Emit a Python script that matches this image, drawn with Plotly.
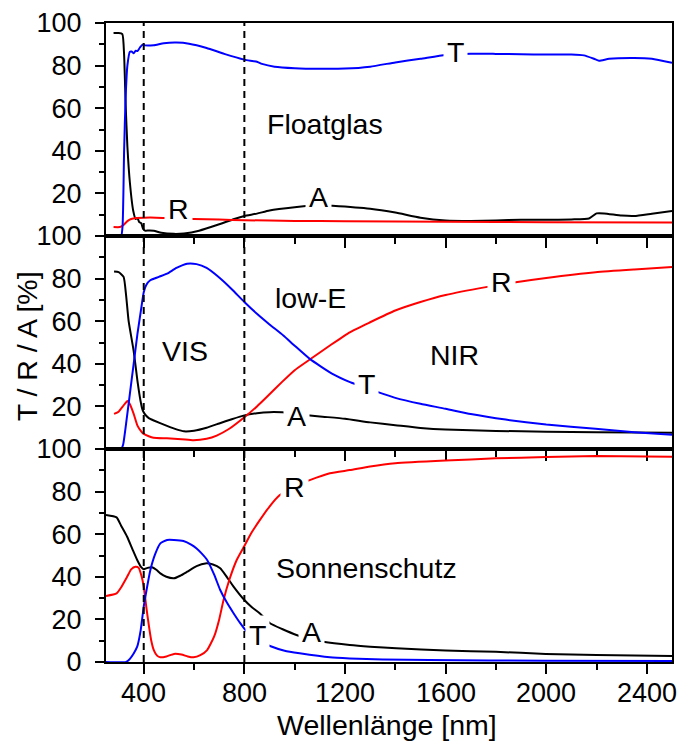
import plotly.graph_objects as go

# ---------------- spectra: Floatglas ----------------
float_A_x = [280, 300, 315, 322, 328, 335, 345, 358, 368, 375, 382, 390, 397, 405, 420, 440, 470, 520, 560, 620, 700, 760, 800, 850, 900, 1000, 1100, 1150, 1300, 1400, 1500, 1600, 1700, 1800, 1900, 2000, 2100, 2170, 2200, 2230, 2300, 2350, 2420, 2500]
float_A_y = [95.3, 95.3, 94.8, 85, 62, 42, 25, 12, 8, 8.5, 6.5, 6, 3.5, 2.5, 2.6, 2.5, 1.5, 1.0, 1.2, 2.5, 5.5, 8, 9.4, 10.5, 12, 13.5, 14.5, 14.2, 12.8, 11, 8.6, 7.3, 7.1, 7.3, 7.6, 7.6, 7.8, 8.2, 10.6, 10.6, 9.6, 9.4, 10.5, 11.8]
float_R_x = [280, 305, 320, 335, 350, 370, 400, 450, 500, 600, 700, 800, 1000, 1200, 1600, 2000, 2500]
float_R_y = [4.2, 4.2, 5.2, 7, 8.0, 8.5, 8.6, 8.6, 8.4, 8.0, 7.7, 7.4, 7.1, 6.9, 6.7, 6.5, 6.3]
float_T_x = [280, 310, 316, 322, 328, 335, 345, 352, 360, 368, 375, 385, 395, 405, 440, 480, 530, 580, 650, 720, 800, 850, 870, 920, 1000, 1100, 1200, 1300, 1400, 1500, 1600, 1700, 1800, 1900, 2000, 2100, 2150, 2190, 2210, 2250, 2350, 2420, 2500]
float_T_y = [0, 0, 5, 40, 65, 80, 86.5, 86.6, 85.8, 87, 86.8, 88.5, 89.8, 89.5, 89.6, 90.5, 90.8, 90.3, 88.3, 85.5, 82.8, 81.8, 80.8, 79.5, 78.8, 78.5, 78.6, 79.5, 81.5, 83.2, 85.0, 85.6, 85.5, 85.3, 85.2, 85.2, 84.8, 83.2, 82.3, 83.2, 83.6, 83.2, 81.3]

# ---------------- spectra: low-E ----------------
lowe_A_x = [282, 300, 320, 330, 340, 360, 375, 387, 395, 403, 420, 440, 490, 530, 560, 600, 650, 700, 750, 800, 850, 900, 950, 1000, 1100, 1200, 1300, 1400, 1500, 1600, 1800, 2000, 2200, 2500]
lowe_A_y = [83.3, 83, 80.8, 72, 60, 46, 32, 22.8, 18.5, 16.6, 14.5, 13.4, 11, 9.2, 8.3, 8.6, 10, 12, 14, 15.8, 16.8, 17.3, 17.2, 16.5, 15.3, 14.2, 12.5, 11.2, 9.9, 9.1, 8.5, 8.1, 7.9, 7.6]
lowe_T_x = [282, 310, 318, 330, 345, 360, 375, 390, 400, 410, 426, 460, 493, 530, 572, 610, 650, 700, 750, 800, 850, 900, 955, 1000, 1060, 1150, 1220, 1238, 1331, 1400, 1500, 1600, 1700, 1839, 2000, 2196, 2350, 2500]
lowe_T_y = [0, 0, 2, 12, 26, 40, 54, 66, 73.6, 77, 79.2, 80.8, 82.3, 85, 87, 86.8, 85, 80.5, 75, 69, 63.5, 58.5, 53.3, 48.5, 42.3, 35.3, 31.4, 30.6, 26.7, 24, 21.2, 18.9, 16.4, 13.8, 11.5, 9.5, 7.9, 6.7]
lowe_R_x = [282, 300, 320, 335, 345, 360, 375, 390, 400, 420, 439, 492, 550, 598, 650, 690, 740, 800, 850, 888, 950, 1000, 1060, 1140, 1219, 1300, 1400, 1500, 1600, 1760, 1879, 2000, 2196, 2350, 2500]
lowe_R_y = [16.5, 17.5, 20.5, 22.5, 21, 16.5, 11, 8.3, 7.1, 6, 5.3, 5, 4.6, 4.1, 4.8, 6.3, 9.5, 14.9, 20, 24.3, 31.5, 37, 42, 48.6, 54.8, 59.5, 65, 69, 72.3, 76, 78.3, 80.3, 83, 84.3, 85.4]

# ---------------- spectra: Sonnenschutz ----------------
sun_A_x = [250, 292, 310, 334, 355, 374, 390, 400, 415, 433, 450, 466, 490, 520, 545, 573, 610, 645, 675, 704, 730, 757, 800, 830, 862, 902, 950, 1007, 1060, 1114, 1219, 1300, 1404, 1600, 1800, 1998, 2200, 2500]
sun_A_y = [69, 67.9, 64, 58.8, 53, 47.9, 44.5, 43.5, 44.2, 44.5, 43.3, 41.6, 40, 39.3, 40.5, 42.4, 45, 46.3, 45.8, 44, 40, 35.4, 29.1, 25.7, 22.8, 18.2, 15.5, 12.7, 10.8, 9.5, 8, 7.2, 6.4, 5.4, 4.8, 3.8, 3.3, 2.8]
sun_T_x = [250, 330, 345, 360, 374, 388, 400, 413, 426, 445, 466, 493, 520, 558, 590, 609, 630, 652, 680, 704, 730, 757, 785, 810, 850, 902, 960, 1020, 1140, 1219, 1350, 1535, 2000, 2500]
sun_T_y = [0, 0, 1.5, 4, 7.2, 15, 26, 35, 43, 50.5, 55.7, 57.3, 57.3, 56.8, 55, 53.4, 51, 47.9, 41, 33.8, 28, 22.9, 18, 14.2, 10.5, 7.5, 5.3, 4.1, 2.2, 1.7, 1.2, 0.9, 0.6, 0.5]
sun_R_x = [250, 292, 310, 334, 350, 367, 380, 392, 400, 410, 421, 430, 440, 453, 466, 490, 520, 550, 575, 598, 625, 652, 680, 700, 717, 740, 770, 800, 830, 862, 900, 941, 1000, 1060, 1140, 1219, 1300, 1400, 1600, 1800, 2000, 2196, 2500]
sun_R_y = [31, 32.2, 35, 40, 43.5, 44.7, 44.2, 40, 35.4, 26, 16.6, 10, 5.6, 3, 2.2, 2.6, 3.8, 3.5, 2.6, 2.2, 3.2, 5.6, 12, 20, 29, 38.5, 48, 54.5, 61, 66.7, 73, 78.4, 82.5, 85.4, 88.6, 90.1, 91.8, 93.3, 94.6, 95.6, 96.2, 96.7, 96.4]

# tick labels
x_tick_vals = [400, 800, 1200, 1600, 2000, 2400]
x_tick_text = ["400", "800", "1200", "1600", "2000", "2400"]
y_tick_vals = [0, 20, 40, 60, 80, 100]
y_tick_text_full = ["0", "20", "40", "60", "80", "100"]
y_tick_text_upper = ["", "20", "40", "60", "80", "100"]

# region / curve labels: (text, x, y, panel)
panel_labels = [
    ("Floatglas", 1120, 52.8, 1), ("T", 1638, 86.3, 1), ("R", 538, 12.7, 1), ("A", 1095, 18.4, 1),
    ("low-E", 1064, 71.1, 2), ("VIS", 565, 46.2, 2), ("NIR", 1634, 43.9, 2),
    ("R", 1824, 78.3, 2), ("T", 1286, 30.6, 2), ("A", 1008, 15.7, 2),
    ("Sonnenschutz", 1285, 44.0, 3), ("R", 1000, 82.3, 3), ("T", 854, 12.7, 3), ("A", 1068, 14.2, 3),
]

FONT = "Liberation Sans, Arial, sans-serif"
FS_TICK = 27
FS_TEXT = 28.5
BLUE, RED, BLACK = "#0000ff", "#ff0000", "#000000"

fig = go.Figure()

panels = [
    (1, [(float_A_x, float_A_y, BLACK), (float_R_x, float_R_y, RED), (float_T_x, float_T_y, BLUE)]),
    (2, [(lowe_A_x, lowe_A_y, BLACK), (lowe_R_x, lowe_R_y, RED), (lowe_T_x, lowe_T_y, BLUE)]),
    (3, [(sun_A_x, sun_A_y, BLACK), (sun_R_x, sun_R_y, RED), (sun_T_x, sun_T_y, BLUE)]),
]
for p, curves in panels:
    suffix = "" if p == 1 else str(p)
    for xs, ys, col in curves:
        fig.add_trace(go.Scatter(
            x=xs, y=ys, mode="lines", xaxis="x" + suffix, yaxis="y" + suffix,
            line=dict(color=col, width=2, shape="spline", smoothing=0.5),
            showlegend=False, hoverinfo="skip"))

domains = {1: [2 / 3, 1.0], 2: [1 / 3, 2 / 3], 3: [0.0, 1 / 3]}
axis_common = dict(showline=True, linecolor="black", linewidth=2, mirror=True,
                   showgrid=False, zeroline=False)
layout_axes = {}
for p in (1, 2, 3):
    suffix = "" if p == 1 else str(p)
    layout_axes["xaxis" + suffix] = dict(
        axis_common, domain=[0, 1], anchor="y" + suffix, range=[250, 2500],
        tickvals=x_tick_vals, ticks="outside", ticklen=10, tickwidth=1.8, tickcolor="black",
        minor=dict(dtick=200, tick0=0, ticks="outside", ticklen=6, tickwidth=1.8, tickcolor="black"),
        showticklabels=False,
        matches=None if p == 1 else "x")
    layout_axes["yaxis" + suffix] = dict(
        axis_common, domain=domains[p], anchor="x" + suffix, range=[0, 100],
        tickvals=y_tick_vals, ticktext=y_tick_text_full if p == 3 else y_tick_text_upper,
        ticks="outside", ticklen=9, tickwidth=1.8, tickcolor="black",
        minor=dict(dtick=10, tick0=0, ticks="outside", ticklen=5, tickwidth=1.8, tickcolor="black"),
        ticklabelstandoff=8,
        tickfont=dict(family=FONT, size=FS_TICK, color="black"))

annotations = []
# wavelength tick labels under the bottom panel
for v, t in zip(x_tick_vals, x_tick_text):
    annotations.append(dict(text=t, x=v, y=-0.0485, xref="x3", yref="paper", showarrow=False,
                            font=dict(family=FONT, size=FS_TICK, color="black"),
                            xanchor="center", yanchor="middle"))

for text, x, y, p in panel_labels:
    suffix = "" if p == 1 else str(p)
    single = len(text) == 1
    annotations.append(dict(
        text=text, x=x, y=y, xref="x" + suffix, yref="y" + suffix, showarrow=False,
        font=dict(family=FONT, size=FS_TEXT, color="black"),
        bgcolor="white" if single else None, borderpad=3 if single else 0,
        xanchor="center", yanchor="middle"))

annotations.append(dict(text="T / R / A [%]", textangle=-90, x=-0.139, y=0.4945,
                        xref="paper", yref="paper", showarrow=False,
                        font=dict(family=FONT, size=FS_TEXT, color="black"),
                        xanchor="center", yanchor="middle"))
annotations.append(dict(text="Wellenlänge [nm]", x=0.497, y=-0.098,
                        xref="paper", yref="paper", showarrow=False,
                        font=dict(family=FONT, size=FS_TEXT, color="black"),
                        xanchor="center", yanchor="middle"))

# VIS / NIR boundaries through all three panels
shapes = []
for xv in (400, 800):
    shapes.append(dict(type="line", xref="x3", yref="paper", x0=xv, x1=xv, y0=0, y1=1,
                       line=dict(color="black", width=2, dash="7px,5px"), layer="above"))

fig.update_layout(
    width=682, height=742,
    margin=dict(l=106, r=8, t=23, b=80),
    paper_bgcolor="white", plot_bgcolor="rgba(0,0,0,0)",
    annotations=annotations, shapes=shapes,
    **layout_axes)

fig.write_html("out.html")
